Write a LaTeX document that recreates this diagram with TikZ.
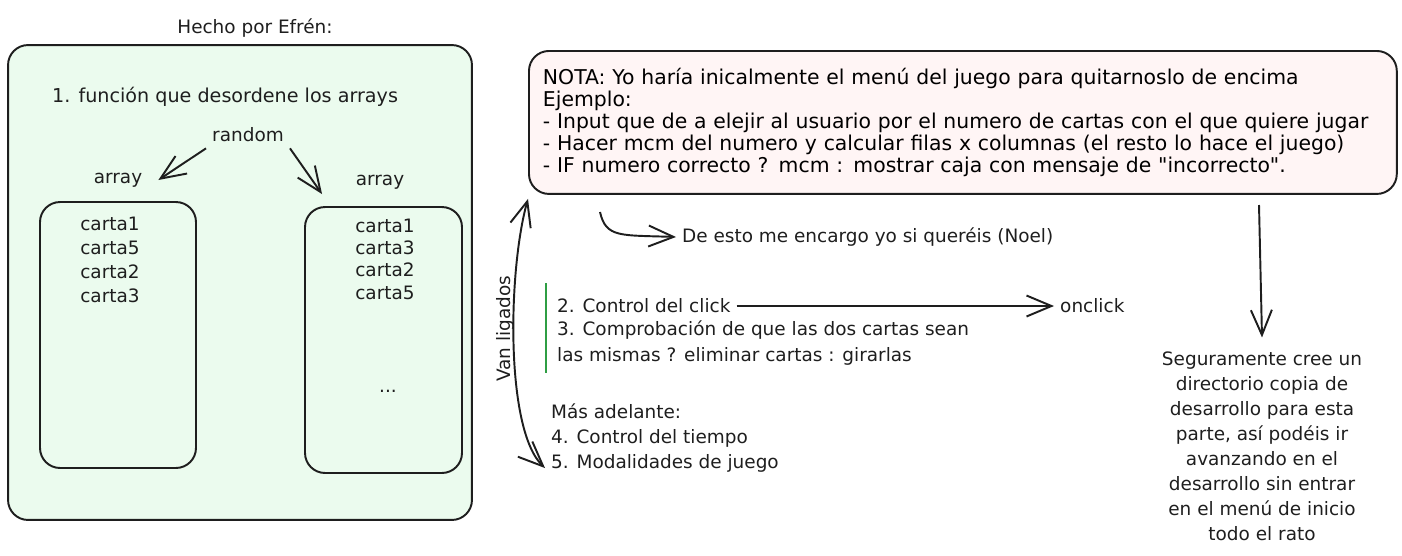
\documentclass[tikz,border=0pt]{standalone}
\usepackage{fontspec}
\setmainfont{DejaVu Sans}[Ligatures=TeXOff]
\usepackage{tikz}
\usetikzlibrary{arrows.meta}
\definecolor{verdeclaro}{RGB}{235,251,238}
\definecolor{rosaclaro}{RGB}{255,245,245}
\definecolor{trazo}{RGB}{30,30,30}
\definecolor{verdebarra}{RGB}{47,158,68}

\begin{document}
\begin{tikzpicture}[x=0.02cm, y=-0.02cm,
		texto/.style={font=\fontsize{10.5}{14.2}\selectfont, text=trazo},
		caja/.style={rectangle, rounded corners=0.4cm, draw=trazo, line width=1.1pt},
		flecha/.style={draw=trazo, line width=1.1pt, -{Straight Barb[length=0.5cm,width=0.42cm]}}]
	\useasboundingbox (0,0) rectangle (1402,555);

	% lo de Efrén
	\node[texto] (hecho) at (255,28) {Hecho por Efrén:};
	\node[caja,
		fill=verdeclaro,
		minimum width=9.28cm,
		minimum height=9.5cm] (efren) at (240,282.5) {};
	\node[texto, anchor=west, font=\fontsize{10.9}{14.2}\selectfont] (funcion) at (46,97) {1. función que desordene los arrays};
	\node[texto] (random) at (248,135) {random};
	\node[texto] (arrL) at (118,180) {array};
	\node[texto] (arrR) at (380,182) {array};
	\node[caja, minimum width=3.12cm, minimum height=5.32cm] (cajaL) at (118,335) {};
	\node[caja, minimum width=3.14cm, minimum height=5.32cm] (cajaR) at (383.5,340) {};
	% ojo: base = ultima linea
	\node[texto, align=center, anchor=base, font=\fontsize{10.5}{13.5}\selectfont] (cartasL) at (110,302) {carta1\\carta5\\carta2\\carta3};
	\node[texto, align=center, anchor=base, font=\fontsize{10.5}{12.7}\selectfont] (cartasR) at (385,299) {carta1\\carta3\\carta2\\carta5};
	\node[texto] (puntos) at (388,391) {...};
	\draw[flecha] (random.south west) -- ([xshift=0.2cm]arrL.east);
	\draw[flecha] (random.south east) -- ([xshift=0.36cm,yshift=0.24cm]cajaR.north west);

	% nota y tareas
	\node[caja,
		fill=rosaclaro,
		anchor=north west,
		text width=16.8cm,
		minimum height=2.86cm,
		inner xsep=0.28cm,
		inner ysep=0.2cm,
		align=left,
		font=\fontsize{11.6}{12.5}\selectfont] (nota) at (528,50) {
		NOTA: Yo haría inicalmente el menú del juego para quitarnoslo de encima\\
		Ejemplo:\\
		- Input que de a elejir al usuario por el numero de cartas con el que quiere jugar\\
		- Hacer mcm del numero y calcular filas x columnas (el resto lo hace el juego)\\
		- IF numero correcto ? mcm : mostrar caja con mensaje de "incorrecto".
	};
	\node[texto, anchor=west] (noel) at (676,237) {De esto me encargo yo si queréis (Noel)};
	\coordinate (encargo) at (600,212);
	\draw[flecha] (encargo) .. controls (606,238) and (620,235) .. (noel.west);

	\draw[verdebarra, line width=1.3pt] (546,283) -- (546,373);
	\node[texto, anchor=west] (click) at (551,306) {2. Control del click};
	\node[texto, anchor=west] (onclick) at (1054,306) {onclick};
	\draw[flecha] (click.east) -- (onclick.west);
	\node[texto, align=left, anchor=base west, font=\fontsize{10.5}{14.6}\selectfont] (compara) at (551,361) {3. Comprobación de que las dos cartas sean\\las mismas ? eliminar cartas : girarlas};

	\node[texto, align=left, anchor=base west] (luego) at (545,468) {Más adelante:\\4. Control del tiempo\\5. Modalidades de juego};
	\node[texto, rotate=90] (ligados) at (505,329) {Van ligados};
	\draw[flecha, {Straight Barb[length=0.5cm,width=0.42cm]}-{Straight Barb[length=0.5cm,width=0.42cm]}]
		([yshift=-0.08cm]nota.south west) .. controls (508,270) and (505,430) .. ([yshift=0.2cm]luego.south west);

	\node[texto, align=center, anchor=base] (segur) at (1262,540) {Seguramente cree un\\directorio copia de\\desarrollo para esta\\parte, así podéis ir\\avanzando en el\\desarrollo sin entrar\\en el menú de inicio\\todo el rato};
	\coordinate (baja) at (1259,205);
	\draw[flecha] (baja) -- ([yshift=0.16cm]segur.north);
\end{tikzpicture}
\end{document}
